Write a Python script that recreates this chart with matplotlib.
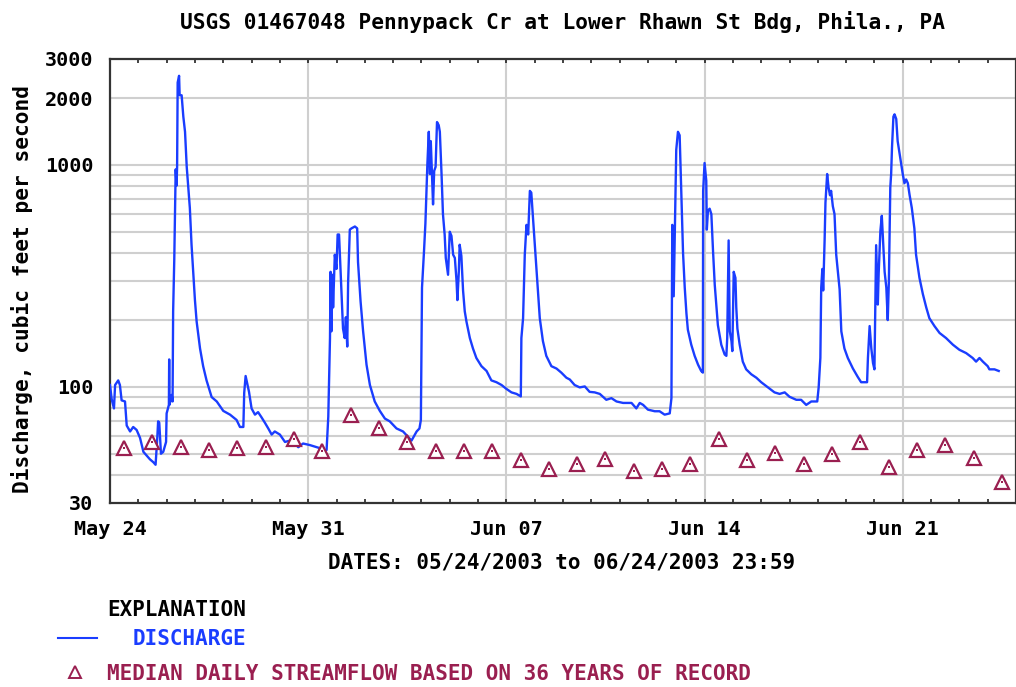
import matplotlib
matplotlib.use("Agg")
import matplotlib.pyplot as plt
import matplotlib.dates as mdates
from matplotlib.lines import Line2D
from matplotlib.ticker import FixedLocator, NullFormatter
import pandas as pd

# Discharge: days since 2003-05-24 00:00 and cfs
days = [
    0.00, 0.06, 0.14, 0.18, 0.29, 0.35, 0.41, 0.53, 0.59, 0.71, 0.82, 0.94,
    1.06, 1.18, 1.30, 1.41, 1.53, 1.61, 1.67, 1.70, 1.74, 1.80, 1.88, 1.98,
    2.00, 2.08, 2.09, 2.10, 2.18, 2.21, 2.23, 2.27, 2.32, 2.35, 2.37, 2.39,
    2.44, 2.46, 2.53, 2.59, 2.65, 2.71, 2.82, 2.88, 2.94, 3.00, 3.06, 3.18,
    3.29, 3.41, 3.59, 3.77, 4.00, 4.24, 4.47, 4.59, 4.71, 4.74, 4.79, 4.86,
    4.91, 5.00, 5.12, 5.23, 5.35, 5.47, 5.59, 5.71, 5.82, 6.00, 6.18, 6.35,
    6.53, 6.65, 6.82, 7.06, 7.24, 7.41, 7.53, 7.65, 7.71, 7.77, 7.79, 7.82,
    7.86, 7.88, 7.94, 8.00, 8.04, 8.09, 8.12, 8.18, 8.23, 8.29, 8.33, 8.38,
    8.41, 8.47, 8.53, 8.65, 8.73, 8.76, 8.85, 8.94, 9.06, 9.18, 9.35, 9.53,
    9.71, 9.88, 10.12, 10.35, 10.53, 10.65, 10.83, 10.93, 10.98, 11.02, 11.09, 11.14,
    11.21, 11.26, 11.30, 11.33, 11.41, 11.45, 11.50, 11.55, 11.61, 11.65, 11.71, 11.76,
    11.82, 11.86, 11.91, 11.94, 12.00, 12.06, 12.12, 12.18, 12.24, 12.27, 12.32, 12.35,
    12.41, 12.47, 12.53, 12.59, 12.71, 12.82, 12.94, 13.12, 13.30, 13.47, 13.65, 13.83,
    14.00, 14.18, 14.36, 14.51, 14.53, 14.59, 14.65, 14.71, 14.77, 14.83, 14.88, 14.94,
    15.06, 15.18, 15.29, 15.41, 15.59, 15.77, 15.94, 16.12, 16.24, 16.41, 16.59, 16.77,
    16.94, 17.12, 17.30, 17.53, 17.71, 17.89, 18.12, 18.42, 18.59, 18.71, 18.83, 19.00,
    19.24, 19.41, 19.59, 19.77, 19.83, 19.86, 19.91, 19.95, 20.00, 20.06, 20.12, 20.18,
    20.24, 20.30, 20.36, 20.41, 20.53, 20.65, 20.77, 20.88, 20.94, 20.95, 21.00, 21.06,
    21.08, 21.12, 21.18, 21.24, 21.30, 21.36, 21.42, 21.47, 21.59, 21.71, 21.77, 21.80,
    21.85, 21.89, 21.95, 21.98, 22.03, 22.09, 22.12, 22.16, 22.24, 22.35, 22.47, 22.65,
    22.83, 23.00, 23.24, 23.47, 23.65, 23.83, 24.00, 24.24, 24.41, 24.59, 24.77, 24.98,
    25.03, 25.09, 25.12, 25.16, 25.19, 25.24, 25.27, 25.33, 25.38, 25.43, 25.47, 25.53,
    25.59, 25.65, 25.77, 25.83, 25.94, 26.06, 26.24, 26.41, 26.53, 26.74, 26.77, 26.83,
    26.89, 26.95, 27.00, 27.06, 27.12, 27.15, 27.21, 27.26, 27.36, 27.42, 27.47, 27.51,
    27.56, 27.59, 27.62, 27.67, 27.71, 27.77, 27.82, 27.91, 28.00, 28.06, 28.12, 28.18,
    28.24, 28.32, 28.41, 28.47, 28.59, 28.71, 28.83, 28.94, 29.12, 29.30, 29.53, 29.77,
    30.00, 30.24, 30.47, 30.59, 30.71, 30.83, 31.00, 31.06, 31.24, 31.39,
]
discharge = [
    102, 88, 80, 102, 107, 102, 87, 86, 67, 63, 66, 64,
    59, 51, 49, 47.2, 45.8, 44.6, 59, 70, 69, 50, 51, 56.5,
    76, 83, 133, 83, 92, 86, 219, 375, 955, 806, 980, 2350,
    2520, 2060, 2060, 1650, 1410, 980, 640, 437, 326, 246, 197, 149,
    124, 107, 90, 86, 78, 75, 71, 66, 66, 94, 112, 102,
    95, 80, 75, 77, 73, 69, 65, 61, 63, 61, 56.5, 57.3,
    55.6, 53.5, 55.6, 54.7, 53.8, 53, 51.2, 52, 73.5, 166, 330, 178,
    320, 228, 394, 340, 486, 486, 394, 266, 183, 166, 206, 152,
    295, 511, 518, 528, 518, 365, 243, 178, 126, 102, 86, 78,
    72, 70, 65, 63, 59.5, 57.3, 63, 65, 71, 280, 407, 545,
    1010, 1410, 910, 1280, 664, 940, 980, 1560, 1510, 1410, 910, 600,
    486, 381, 340, 320, 500, 479, 394, 381, 300, 246, 330, 437,
    389, 272, 219, 197, 166, 149, 135, 124, 118, 107, 105, 102,
    98, 94.5, 93, 90.6, 166, 204, 394, 537, 486, 764, 750, 578,
    340, 204, 161, 138, 124, 121, 116, 110, 108, 102, 99.5, 100.5,
    95, 94.5, 93, 87.5, 89, 86, 84.7, 84.7, 80, 84.7, 83, 79,
    77.7, 77.7, 75, 76, 89, 537, 256, 511, 1170, 1410, 1360, 730,
    401, 280, 214, 181, 155, 138, 126, 118, 116, 764, 1020, 850,
    511, 623, 635, 600, 407, 288, 228, 190, 155, 140, 138, 166,
    457, 178, 161, 145, 330, 310, 228, 183, 155, 130, 120, 114,
    110, 105, 99.5, 94.5, 93, 94.5, 90.3, 87.5, 87.5, 83, 86, 86,
    99.5, 135, 280, 340, 272, 457, 676, 910, 790, 730, 764, 652,
    600, 394, 275, 178, 149, 135, 121, 111, 105, 105, 135, 188,
    149, 128, 120, 435, 235, 326, 504, 590, 330, 280, 200, 300,
    790, 910, 1195, 1650, 1690, 1610, 1280, 1080, 910, 827, 860, 827,
    734, 640, 518, 394, 310, 262, 228, 204, 188, 175, 166, 155,
    147, 142, 135, 130, 135, 130, 124, 120, 120, 118,
]

# Median daily streamflow, one value per day (plotted at noon), May 24 - Jun 24
median_flow = [
    53, 56.5, 53.8, 52, 53, 53.8, 58.4, 51.2, 75, 65.5, 56.3, 51.2,
    51.2, 51.2, 46.9, 42.9, 45, 47.2, 41.7, 42.9, 45, 58.4, 46.9, 50.5,
    45, 49.9, 56.3, 43.8, 52, 55, 47.7, 37.2,
]

y_ticks = [30, 100, 1000, 2000, 3000]
y_grid = [40, 50, 60, 70, 80, 90, 100, 200, 300, 400, 500, 600, 700, 800, 900, 1000, 2000]

start = pd.Timestamp("2003-05-24")
t_flow = start + pd.to_timedelta(days, unit="D")
t_median = pd.date_range("2003-05-24 12:00", periods=len(median_flow), freq="D")

BLUE = "#1a3dff"
MAROON = "#9a1f50"
FONT = {"family": "DejaVu Sans Mono", "weight": "bold"}

fig = plt.figure(figsize=(10.16, 6.87), dpi=100)
ax = fig.add_axes([110 / 1016, 1 - 503 / 687, 906 / 1016, 444 / 687])

ax.plot(t_flow, discharge, color=BLUE, linewidth=1.7, zorder=3)
ax.plot(t_median, median_flow, linestyle="none", marker="^", markersize=10.5,
        markerfacecolor="white", markeredgecolor=MAROON, markeredgewidth=1.6, zorder=4)
ax.plot(t_median, median_flow, linestyle="none", marker="s", markersize=1.6,
        color=MAROON, markeredgewidth=0, zorder=5)

ax.set_yscale("log")
ax.set_ylim(30, 3000)
ax.set_xlim(start, pd.Timestamp("2003-06-25"))

ax.yaxis.set_major_locator(FixedLocator(y_ticks))
ax.yaxis.set_minor_locator(FixedLocator(y_grid))
ax.yaxis.set_major_formatter(matplotlib.ticker.FuncFormatter(lambda v, p: f"{int(v)}"))
ax.yaxis.set_minor_formatter(NullFormatter())
for v in y_grid:
    ax.axhline(v, color="#cfcfcf", linewidth=1.5, zorder=1)

week_ticks = pd.date_range("2003-05-24", "2003-06-21", freq="7D")
ax.set_xticks(week_ticks)
ax.set_xticklabels([d.strftime("%b %d") for d in week_ticks])
ax.xaxis.set_minor_locator(mdates.DayLocator())
for d in week_ticks[1:]:
    ax.axvline(d, color="#cfcfcf", linewidth=1.5, zorder=1)

ax.tick_params(axis="y", which="both", length=0, pad=12)
ax.tick_params(axis="x", which="both", direction="in", length=3, width=1.2,
               top=True, bottom=True, pad=12, color="#222222")
for lab in ax.get_xticklabels() + ax.get_yticklabels():
    lab.set_fontfamily(FONT["family"])
    lab.set_fontweight("bold")
    lab.set_fontsize(14.5)

for s in ax.spines.values():
    s.set_color("#333333")
    s.set_linewidth(1.6)

fig.text(562 / 1016, 1 - 22 / 687, "USGS 01467048 Pennypack Cr at Lower Rhawn St Bdg, Phila., PA",
         ha="center", va="center", fontsize=15.2, **FONT)
fig.text(22 / 1016, 1 - 289 / 687, "Discharge, cubic feet per second", rotation=90,
         ha="center", va="center", fontsize=15.2, **FONT)
fig.text(562 / 1016, 1 - 563 / 687, "DATES: 05/24/2003 to 06/24/2003 23:59",
         ha="center", va="center", fontsize=15, **FONT)

# explanation block
fig.text(107 / 1016, 1 - 610 / 687, "EXPLANATION", ha="left", va="center", fontsize=15, **FONT)
fig.add_artist(Line2D([58 / 1016, 97 / 1016], [1 - 638 / 687, 1 - 638 / 687],
                      transform=fig.transFigure, color=BLUE, linewidth=1.5))
fig.text(133 / 1016, 1 - 639 / 687, "DISCHARGE", ha="left", va="center", fontsize=15,
         color=BLUE, **FONT)
fig.add_artist(Line2D([75 / 1016], [1 - 672 / 687], transform=fig.transFigure,
                      marker="^", markersize=9, markerfacecolor="white",
                      markeredgecolor=MAROON, markeredgewidth=1.4, linestyle="none"))
fig.text(107 / 1016, 1 - 674 / 687, "MEDIAN DAILY STREAMFLOW BASED ON 36 YEARS OF RECORD",
         ha="left", va="center", fontsize=15, color=MAROON, **FONT)

fig.savefig("out.png", dpi=100)
